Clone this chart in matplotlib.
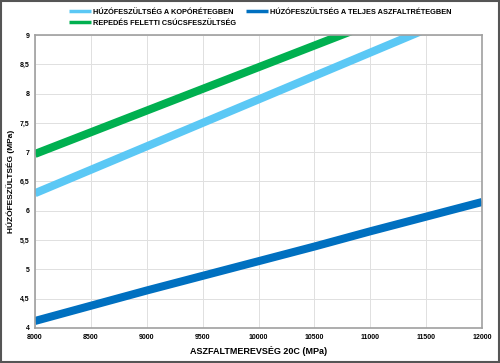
import matplotlib
matplotlib.use("Agg")
import matplotlib.pyplot as plt
from matplotlib.patches import Rectangle
from matplotlib.ticker import FuncFormatter

stiffness = [8000, 8500, 9000, 9500, 10000, 10500, 11000, 11500, 12000]
kopo = [6.30, 6.70, 7.10, 7.50, 7.90, 8.30, 8.70, 9.10, 9.49]
repedes = [6.97, 7.34, 7.71, 8.08, 8.45, 8.82, 9.19, 9.56, 9.93]
teljes = [4.12, 4.38, 4.64, 4.89, 5.14, 5.39, 5.65, 5.90, 6.15]

labels = ["HÚZÓFESZÜLTSÉG A KOPÓRÉTEGBEN",
          "REPEDÉS FELETTI CSÚCSFESZÜLTSÉG",
          "HÚZÓFESZÜLTSÉG A TELJES ASZFALTRÉTEGBEN"]
colors = ["#5BC8F5", "#00B050", "#0070C0"]

plt.rcParams['font.family'] = ['Liberation Sans', 'DejaVu Sans']

fig = plt.figure(figsize=(5, 3.63), dpi=100)
ax = fig.add_axes([35/500, 1-328/363, 447/500, 293/363])

for y, c, l in zip([kopo, repedes, teljes], colors, labels):
    ax.plot(stiffness, y, color=c, lw=5.8, label=l, solid_capstyle='butt')

ax.set_xlim(8000, 12000)
ax.set_ylim(4, 9)
ax.set_xticks(range(8000, 12001, 500))
ax.set_yticks([4 + 0.5*i for i in range(11)])
ax.yaxis.set_major_formatter(FuncFormatter(lambda v, p: (f"{v:g}").replace('.', ',')))
ax.tick_params(length=0, labelsize=5, pad=4)
for t in ax.get_xticklabels() + ax.get_yticklabels():
    t.set_fontweight('bold')
ax.grid(True, color='#e0e0e0', lw=0.7)
ax.set_axisbelow(True)
for s in ax.spines.values():
    s.set_color('#a0a0a0')
    s.set_linewidth(1.2)

ax.set_xlabel("ASZFALTMEREVSÉG 20C (MPa)", fontsize=6.5, fontweight='bold', labelpad=4)
ax.set_ylabel("HÚZÓFESZÜLTSÉG (MPa)", fontsize=6, fontweight='bold')
ax.yaxis.set_label_coords(-0.045, 0.5)

leg = fig.legend(loc='upper left', bbox_to_anchor=(62/500, 1-2/363), ncol=2,
                 frameon=False, prop={'size': 5.3, 'weight': 'bold'},
                 handlelength=3.0, handletextpad=0.3, columnspacing=1.3,
                 labelspacing=0.5)
for h in leg.get_lines():
    h.set_linewidth(2.5)

fig.patches.append(Rectangle((0.002, 0.003), 0.995, 0.993, transform=fig.transFigure,
                             fill=False, edgecolor='#555555', lw=1.5))

fig.savefig("out.png", dpi=100)
